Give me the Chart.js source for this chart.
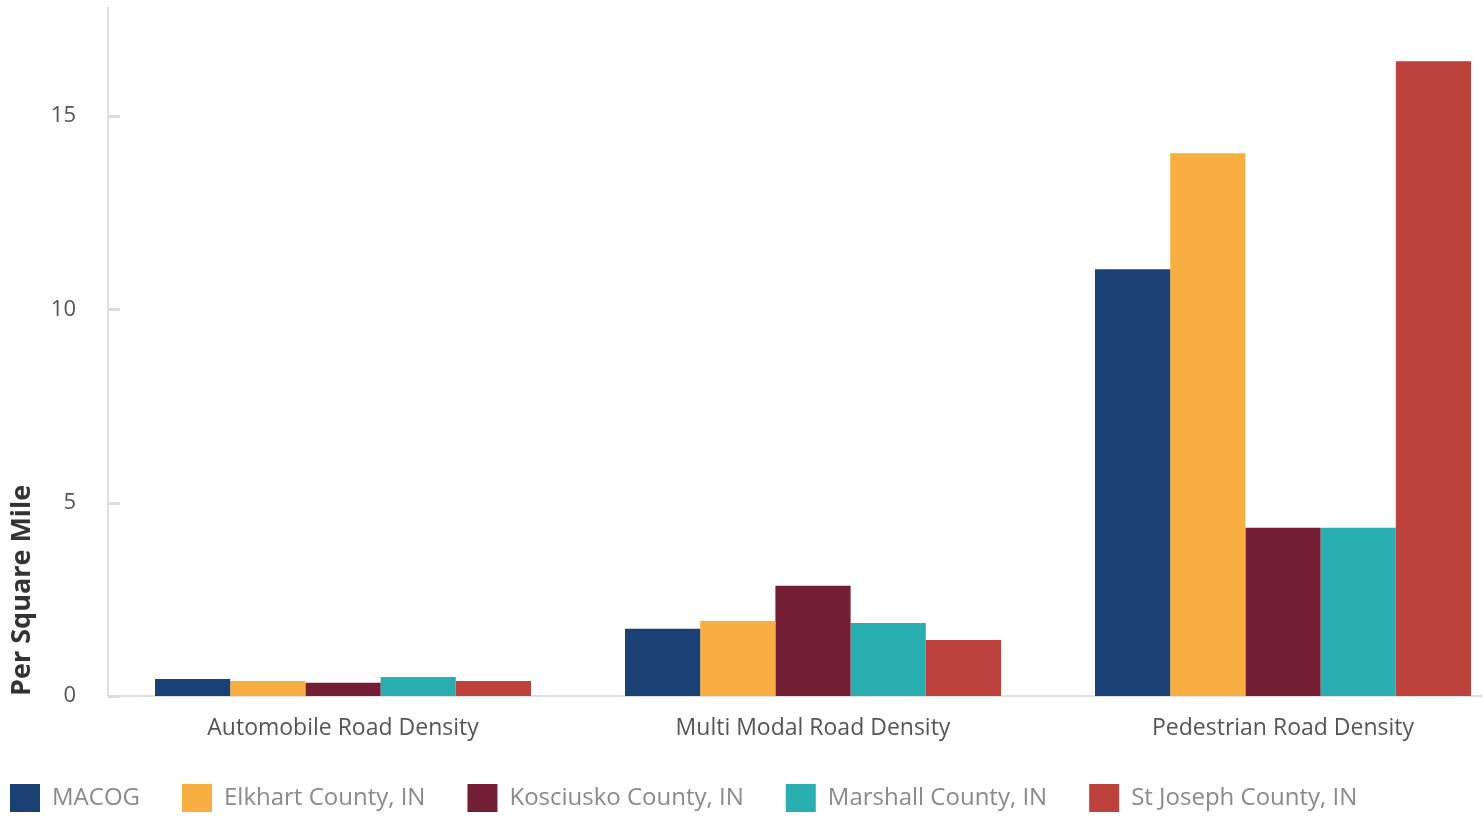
<!DOCTYPE html>
<html>
<head>
<meta charset="utf-8">
<script src="https://cdn.jsdelivr.net/npm/chart.js@4.4.1/dist/chart.umd.min.js"></script>
<style>
  html, body { margin: 0; padding: 0; background: #fff; }
  #wrap { width: 1483px; height: 816px; overflow: hidden; }
</style>
</head>
<body>
<div id="wrap"><canvas id="chart" width="1520" height="816"></canvas></div>
<script>
const categories = ['Automobile Road Density', 'Multi Modal Road Density', 'Pedestrian Road Density'];
const seriesNames = ['MACOG', 'Elkhart County, IN', 'Kosciusko County, IN', 'Marshall County, IN', 'St Joseph County, IN'];
const macog = [0.44, 1.74, 11.04];
const elkhart = [0.39, 1.94, 14.04];
const kosciusko = [0.34, 2.85, 4.35];
const marshall = [0.49, 1.89, 4.35];
const stJoseph = [0.39, 1.45, 16.42];
const yTicks = [0, 5, 10, 15];

const colors = ['#1b4174', '#f9ae42', '#731e35', '#2aafb0', '#bd413d'];
const values = [macog, elkhart, kosciusko, marshall, stJoseph];

// small tick marks drawn to the right of the y axis line
const innerTicks = {
  id: 'innerTicks',
  afterDatasetsDraw(chart) {
    const y = chart.scales.y;
    const ctx = chart.ctx;
    ctx.save();
    ctx.strokeStyle = '#dcdcdc';
    ctx.lineWidth = 3;
    yTicks.forEach(v => {
      const py = Math.round(y.getPixelForValue(v)) + 0.5;
      ctx.beginPath();
      ctx.moveTo(y.right, py);
      ctx.lineTo(y.right + 12, py);
      ctx.stroke();
    });
    ctx.restore();
  }
};

// legend starts near the left edge even with wide item padding
const shiftLegend = {
  id: 'shiftLegend',
  afterLayout(chart) {
    chart.legend.left = -32;
  }
};

new Chart(document.getElementById('chart'), {
  type: 'bar',
  data: {
    labels: categories,
    datasets: seriesNames.map((name, i) => ({
      label: name,
      data: values[i],
      backgroundColor: colors[i],
      borderWidth: 0,
      categoryPercentage: 0.8,
      barPercentage: 1.0
    }))
  },
  options: {
    responsive: false,
    animation: false,
    devicePixelRatio: 1,
    layout: { padding: { top: 8, right: 2, left: 0, bottom: 0 } },
    plugins: {
      tooltip: { enabled: false },
      legend: {
        position: 'bottom',
        align: 'start',
        maxHeight: 74,
        labels: {
          boxWidth: 30,
          boxHeight: 28,
          padding: 42,
          color: '#8a8a8a',
          font: { family: 'Open Sans', size: 24 }
        }
      }
    },
    scales: {
      x: {
        grid: { display: false, drawTicks: false },
        border: { color: '#e0e0e0', width: 2 },
        ticks: {
          color: '#555',
          padding: 19,
          font: { family: 'Open Sans', size: 23 }
        },
        afterFit: s => { s.height = 46; }
      },
      y: {
        min: 0,
        max: 17.8,
        grid: { display: false, drawTicks: false },
        border: { color: '#e0e0e0', width: 2 },
        afterBuildTicks: s => { s.ticks = yTicks.map(v => ({ value: v })); },
        ticks: {
          color: '#555',
          padding: 32,
          font: { family: 'Open Sans', size: 22 }
        },
        title: {
          display: true,
          text: 'Per Square Mile',
          align: 'start',
          color: '#333',
          padding: { top: 6, bottom: 10 },
          font: { family: 'Open Sans', size: 27, weight: 'bold' }
        },
        afterFit: s => { s.width = 108; s.paddingTop = 0; s.paddingBottom = 0; }
      }
    }
  },
  plugins: [innerTicks, shiftLegend]
});
</script>
</body>
</html>
